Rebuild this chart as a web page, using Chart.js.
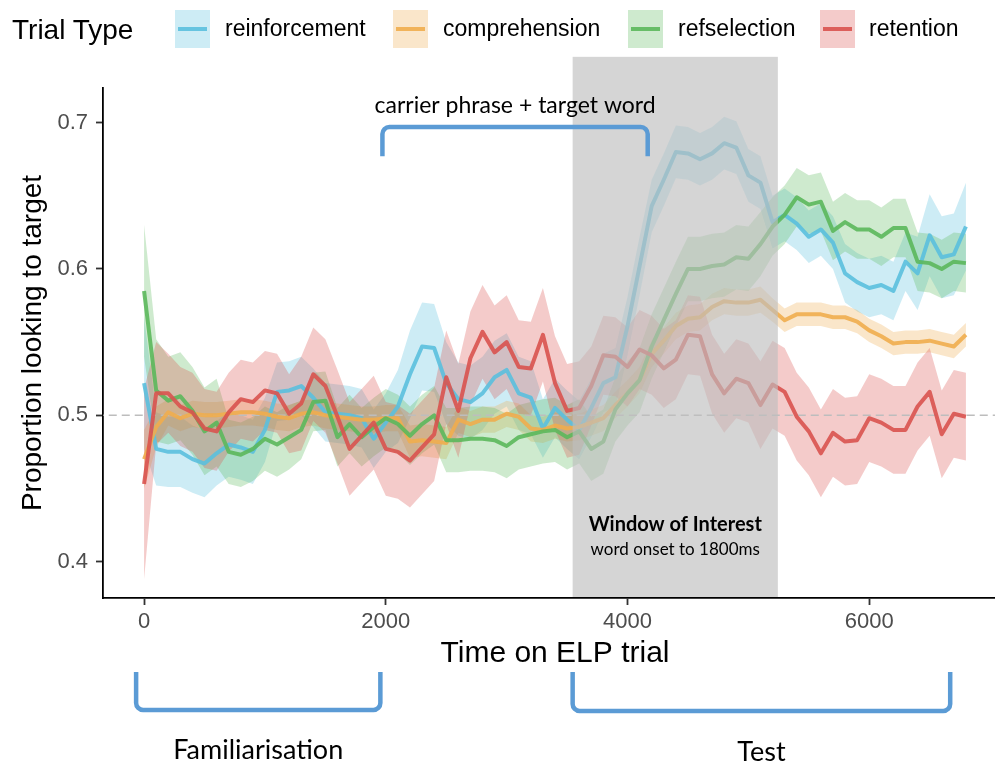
<!DOCTYPE html>
<html>
<head>
<meta charset="utf-8">
<script src="https://cdn.jsdelivr.net/npm/chart.js@4.4.1/dist/chart.umd.min.js"></script>
<style>
  html, body { margin: 0; padding: 0; background: #fff; overflow: hidden; }
  #wrap { position: relative; width: 995px; height: 764px; overflow: hidden; }
  #chart { position: absolute; left: 0; top: 0; }
  #legend { position: absolute; left: 0; top: 0; width: 995px; height: 56px; z-index: 2;
            font-family: "Liberation Sans", Arial, sans-serif; color: #000; }
  #legend .title { position: absolute; left: 12px; top: 14px; font-size: 28px; }
  #legend .key { position: absolute; top: 10px; width: 35px; height: 38px; }
  #legend .key i { position: absolute; left: 3px; right: 3px; top: 17px; height: 4px; }
  #legend .lab { position: absolute; top: 15px; font-size: 23px; }
</style>
</head>
<body>
<div id="wrap">
  <!-- the panel runs a little past the right edge, as in the original plot -->
  <canvas id="chart" width="1009" height="764"></canvas>
  <div id="legend"><span class="title">Trial Type</span></div>
</div>
<script>
// time bins (ms)
const times = [0,100,200,300,400,500,600,700,800,900,1000,1100,1200,1300,1400,1500,1600,1700,1800,1900,
  2000,2100,2200,2300,2400,2500,2600,2700,2800,2900,3000,3100,3200,3300,3400,3500,3600,3700,3800,3900,
  4000,4100,4200,4300,4400,4500,4600,4700,4800,4900,5000,5100,5200,5300,5400,5500,5600,5700,5800,5900,
  6000,6100,6200,6300,6400,6500,6600,6700,6800];

const seriesNames = ['reinforcement', 'comprehension', 'refselection', 'retention'];
const seriesColors = ['91,192,222', '240,173,78', '92,184,92', '217,83,79'];

const reinforcement = [0.522,0.477,0.475,0.475,0.470,0.467,0.474,0.480,0.478,0.475,
  0.490,0.516,0.517,0.520,0.512,0.502,0.501,0.500,0.498,0.484,
  0.495,0.506,0.528,0.547,0.546,0.522,0.511,0.509,0.515,0.526,
  0.531,0.515,0.512,0.491,0.505,0.497,0.490,0.505,0.522,0.526,
  0.561,0.602,0.643,0.661,0.680,0.679,0.675,0.679,0.686,0.683,
  0.664,0.659,0.632,0.637,0.631,0.622,0.627,0.618,0.597,0.591,
  0.587,0.589,0.585,0.605,0.597,0.623,0.608,0.610,0.629];
const comprehension = [0.470,0.492,0.502,0.498,0.501,0.500,0.500,0.501,0.502,0.502,
  0.501,0.499,0.498,0.501,0.502,0.500,0.499,0.498,0.497,0.497,
  0.498,0.498,0.482,0.483,0.482,0.481,0.497,0.494,0.497,0.497,
  0.501,0.499,0.491,0.490,0.493,0.491,0.492,0.495,0.498,0.507,
  0.515,0.524,0.542,0.551,0.561,0.566,0.567,0.574,0.578,0.577,
  0.577,0.579,0.572,0.565,0.569,0.569,0.569,0.567,0.567,0.564,
  0.558,0.554,0.549,0.550,0.550,0.551,0.549,0.547,0.555];
const refselection = [0.585,0.517,0.510,0.513,0.503,0.489,0.495,0.475,0.473,0.477,
  0.484,0.480,0.485,0.490,0.509,0.510,0.485,0.494,0.485,0.492,
  0.498,0.494,0.486,0.494,0.500,0.483,0.483,0.484,0.484,0.483,
  0.479,0.485,0.487,0.489,0.490,0.485,0.489,0.477,0.482,0.504,
  0.515,0.524,0.547,0.565,0.583,0.600,0.600,0.602,0.603,0.608,
  0.607,0.617,0.629,0.637,0.649,0.644,0.646,0.626,0.632,0.627,
  0.627,0.622,0.628,0.628,0.605,0.604,0.600,0.605,0.604];
const retention = [0.453,0.515,0.515,0.506,0.502,0.491,0.489,0.502,0.511,0.509,
  0.517,0.515,0.501,0.508,0.528,0.520,0.499,0.477,0.486,0.495,
  0.477,0.475,0.469,0.478,0.487,0.526,0.503,0.539,0.557,0.543,
  0.550,0.533,0.532,0.555,0.522,0.503,0.505,0.520,0.541,0.540,
  0.533,0.545,0.541,0.532,0.538,0.555,0.554,0.528,0.515,0.525,
  0.522,0.507,0.521,0.516,0.499,0.489,0.474,0.488,0.482,0.483,
  0.498,0.495,0.490,0.490,0.506,0.516,0.487,0.501,0.499];

// half-width of the ribbons
const reinforcementSE = [0.045,0.025,0.024,0.024,0.023,0.023,0.022,0.022,0.022,0.022,
  0.022,0.020,0.020,0.020,0.020,0.020,0.020,0.020,0.020,0.020,
  0.020,0.025,0.030,0.030,0.030,0.028,0.025,0.025,0.025,0.025,
  0.025,0.025,0.025,0.020,0.020,0.020,0.020,0.020,0.020,0.020,
  0.020,0.020,0.018,0.018,0.018,0.018,0.018,0.018,0.018,0.018,
  0.018,0.018,0.018,0.018,0.018,0.018,0.018,0.018,0.020,0.020,
  0.020,0.020,0.020,0.020,0.025,0.028,0.028,0.028,0.030];
const comprehensionSE = [0.020,0.014,0.009,0.009,0.009,0.009,0.009,0.009,0.009,0.009,
  0.009,0.009,0.009,0.009,0.009,0.009,0.009,0.009,0.009,0.009,
  0.009,0.009,0.011,0.011,0.011,0.011,0.009,0.009,0.009,0.009,
  0.009,0.009,0.009,0.009,0.009,0.009,0.009,0.009,0.009,0.009,
  0.009,0.009,0.009,0.009,0.009,0.009,0.009,0.009,0.009,0.009,
  0.009,0.009,0.008,0.008,0.008,0.008,0.008,0.008,0.008,0.008,
  0.008,0.008,0.008,0.008,0.008,0.008,0.008,0.008,0.008];
const refselectionSE = [0.045,0.035,0.030,0.030,0.030,0.030,0.030,0.022,0.022,0.022,
  0.022,0.022,0.022,0.020,0.020,0.020,0.020,0.020,0.020,0.020,
  0.020,0.020,0.020,0.020,0.020,0.022,0.022,0.022,0.022,0.022,
  0.022,0.022,0.022,0.022,0.022,0.022,0.022,0.022,0.022,0.022,
  0.022,0.022,0.022,0.022,0.022,0.022,0.022,0.022,0.022,0.022,
  0.022,0.022,0.020,0.020,0.020,0.020,0.020,0.020,0.020,0.020,
  0.020,0.020,0.020,0.020,0.020,0.020,0.020,0.020,0.020];
const retentionSE = [0.065,0.035,0.027,0.027,0.027,0.027,0.027,0.027,0.027,0.027,
  0.027,0.027,0.027,0.032,0.032,0.032,0.032,0.032,0.032,0.032,
  0.032,0.032,0.032,0.032,0.032,0.032,0.032,0.032,0.032,0.032,
  0.032,0.032,0.032,0.032,0.032,0.032,0.032,0.027,0.027,0.027,
  0.027,0.027,0.027,0.027,0.027,0.027,0.027,0.027,0.027,0.027,
  0.027,0.030,0.030,0.030,0.030,0.030,0.030,0.030,0.030,0.030,
  0.030,0.030,0.030,0.030,0.030,0.030,0.030,0.030,0.030];

const xTicks = [0, 2000, 4000, 6000];
const yTicks = [0.4, 0.5, 0.6, 0.7];
const chanceLevel = 0.5;
// shaded window of interest and the bracket spans (ms)
const windowStart = 3546, windowEnd = 5244, windowTop = 0.745;
const carrierSpan = [1972, 4167];
const familiarSpan = [-66, 1955];
const testSpan = [3546, 6670];

const sansFont = '"Liberation Sans", Arial, sans-serif';
const noteFont = 'Lato, "Open Sans", sans-serif';
const bracketBlue = '#5b9bd5';

const means = [reinforcement, comprehension, refselection, retention];
const ses = [reinforcementSE, comprehensionSE, refselectionSE, retentionSE];

// legend (html)
const legend = document.getElementById('legend');
const keyLeft = [175, 393, 628, 820];
const labLeft = [225, 443, 678, 869];
seriesNames.forEach((name, k) => {
  const key = document.createElement('span');
  key.className = 'key';
  key.style.left = keyLeft[k] + 'px';
  key.style.background = 'rgba(' + seriesColors[k] + ',0.3)';
  const ln = document.createElement('i');
  ln.style.background = 'rgba(' + seriesColors[k] + ',0.9)';
  key.appendChild(ln);
  legend.appendChild(key);
  const lab = document.createElement('span');
  lab.className = 'lab';
  lab.style.left = labLeft[k] + 'px';
  lab.textContent = name;
  legend.appendChild(lab);
});

let datasets = [];
means.forEach((m, k) => {
  const c = seriesColors[k];
  datasets.push({
    label: seriesNames[k] + ' upper',
    data: times.map((t, i) => ({ x: t, y: m[i] + ses[k][i] })),
    borderWidth: 0, pointRadius: 0, backgroundColor: 'rgba(' + c + ',0.3)',
    fill: '+1', order: 20 - k
  });
  datasets.push({
    label: seriesNames[k] + ' lower',
    data: times.map((t, i) => ({ x: t, y: m[i] - ses[k][i] })),
    borderWidth: 0, pointRadius: 0, fill: false, order: 20 - k
  });
});
datasets.push({
  label: 'chance',
  data: [{ x: -400, y: chanceLevel }, { x: 7200, y: chanceLevel }],
  borderColor: '#bdbdbd', borderWidth: 1.5, borderDash: [8, 5],
  pointRadius: 0, fill: false, order: 8
});
means.forEach((m, k) => {
  datasets.push({
    label: seriesNames[k],
    data: times.map((t, i) => ({ x: t, y: m[i] })),
    borderColor: 'rgba(' + seriesColors[k] + ',0.9)', borderWidth: 4,
    borderJoinStyle: 'round', pointRadius: 0, fill: false, order: 3 - k
  });
});

function bracket(ctx, xa, xb, yEdge, yBar, r) {
  ctx.beginPath();
  ctx.moveTo(xa, yEdge);
  ctx.arcTo(xa, yBar, xb, yBar, r);
  ctx.arcTo(xb, yBar, xb, yEdge, r);
  ctx.lineTo(xb, yEdge);
  ctx.stroke();
}

const annotate = {
  id: 'annotate',
  afterDatasetsDraw(chart) {
    const { ctx, chartArea } = chart;
    const x = chart.scales.x, y = chart.scales.y;
    const x0 = x.getPixelForValue(windowStart), x1 = x.getPixelForValue(windowEnd);
    const yTop = y.getPixelForValue(windowTop);
    ctx.save();
    ctx.fillStyle = 'rgba(190,190,190,0.65)';
    ctx.fillRect(x0, yTop, x1 - x0, chartArea.bottom - 1 - yTop);
    ctx.restore();
  },
  afterDraw(chart) {
    const { ctx, chartArea } = chart;
    const x = chart.scales.x, y = chart.scales.y;
    ctx.save();
    ctx.strokeStyle = bracketBlue;
    ctx.lineWidth = 4.5;
    ctx.lineCap = 'butt';
    // carrier phrase bracket
    const ca = x.getPixelForValue(carrierSpan[0]), cb = x.getPixelForValue(carrierSpan[1]);
    bracket(ctx, ca, cb, y.getPixelForValue(0.677), y.getPixelForValue(0.697), 7);
    const fa = x.getPixelForValue(familiarSpan[0]), fb = x.getPixelForValue(familiarSpan[1]);
    bracket(ctx, fa, fb, chartArea.bottom + 74, chartArea.bottom + 112, 7);
    const ta = x.getPixelForValue(testSpan[0]), tb = x.getPixelForValue(testSpan[1]);
    bracket(ctx, ta, tb, chartArea.bottom + 74, chartArea.bottom + 113, 7);

    ctx.fillStyle = '#000';
    ctx.textAlign = 'center';
    ctx.textBaseline = 'middle';
    ctx.font = '23px ' + noteFont;
    ctx.fillText('carrier phrase + target word', (ca + cb) / 2, y.getPixelForValue(0.7116));
    const wx = (x.getPixelForValue(windowStart) + x.getPixelForValue(windowEnd)) / 2;
    ctx.font = 'bold 20px ' + noteFont;
    ctx.fillText('Window of Interest', wx, y.getPixelForValue(0.4254));
    ctx.font = '17px ' + noteFont;
    ctx.fillText('word onset to 1800ms', wx, y.getPixelForValue(0.4084));
    ctx.font = '27px ' + noteFont;
    ctx.fillText('Familiarisation', (fa + fb) / 2, chartArea.bottom + 152);
    ctx.fillText('Test', (ta + tb) / 2, chartArea.bottom + 154);
    ctx.restore();
  }
};

new Chart(document.getElementById('chart'), {
  type: 'line',
  data: { datasets: datasets },
  options: {
    responsive: false,
    animation: false,
    layout: { padding: { top: 88, right: 2, left: 0, bottom: 0 } },
    plugins: { legend: { display: false }, tooltip: { enabled: false } },
    scales: {
      x: {
        type: 'linear', min: -340, max: 7140,
        afterBuildTicks: s => { s.ticks = xTicks.map(v => ({ value: v })); },
        afterFit: s => { s.height = 166; },
        grid: { drawOnChartArea: false, drawTicks: true, tickLength: 7, tickColor: '#333', tickWidth: 1.8 },
        border: { display: true, color: '#000', width: 1.8 },
        ticks: { color: '#4d4d4d', font: { family: sansFont, size: 22 }, padding: 4, maxRotation: 0,
                 callback: v => String(v) },
        title: { display: true, text: 'Time on ELP trial', color: '#000',
                 font: { family: sansFont, size: 30 }, padding: { top: 0, bottom: 92 } }
      },
      y: {
        min: 0.3751, max: 0.7237,
        afterBuildTicks: s => { s.ticks = yTicks.map(v => ({ value: v })); },
        afterFit: s => { s.width = 103; },
        grid: { drawOnChartArea: false, drawTicks: true, tickLength: 7, tickColor: '#333', tickWidth: 1.8 },
        border: { display: true, color: '#000', width: 1.8 },
        ticks: { color: '#4d4d4d', font: { family: sansFont, size: 22 }, padding: 8,
                 callback: v => v.toFixed(1) },
        title: { display: true, text: 'Proportion looking to target', color: '#000',
                 font: { family: sansFont, size: 28 }, padding: { top: 16, bottom: 0 } }
      }
    }
  },
  plugins: [annotate]
});
</script>
</body>
</html>
